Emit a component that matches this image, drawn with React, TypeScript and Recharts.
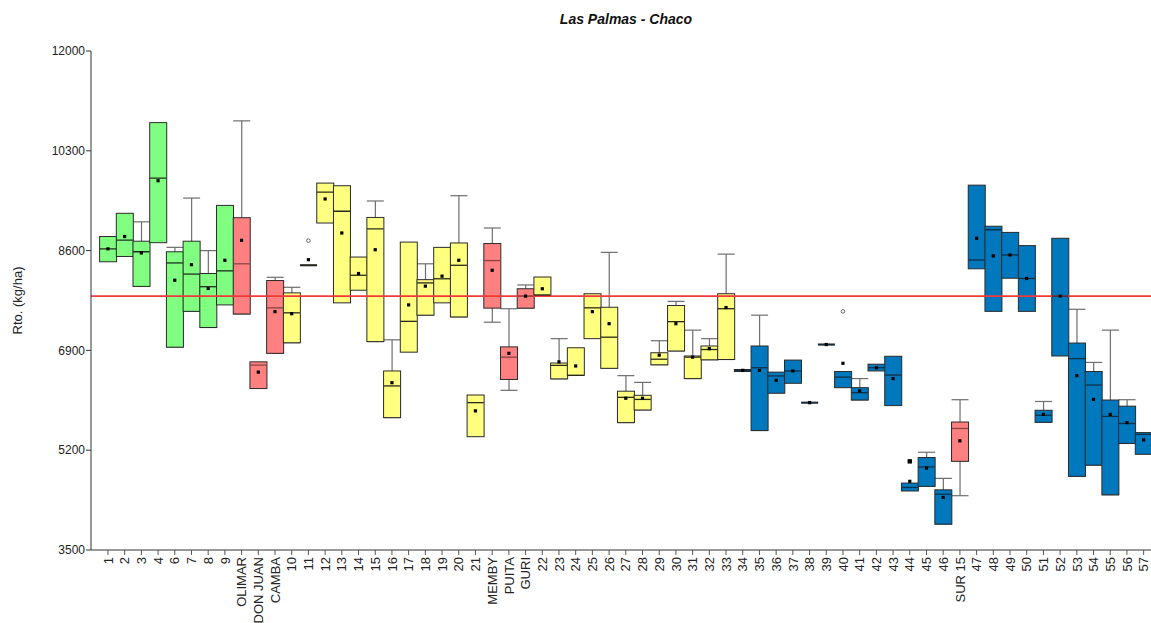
import React from 'react';
import { ComposedChart, Bar, Scatter, XAxis, YAxis, ReferenceLine } from 'recharts';

const categories = [
  '1', '2', '3', '4', '6', '7', '8', '9', 'OLIMAR', 'DON JUAN', 'CAMBA',
  '10', '11', '12', '13', '14', '15', '16', '17', '18', '19', '20', '21',
  'MEMBY', 'PUITA', 'GURI',
  '22', '23', '24', '25', '26', '27', '28', '29', '30', '31', '32', '33',
  '34', '35', '36', '37', '38', '39', '40', '41', '42', '43', '44', '45', '46',
  'SUR 15',
  '47', '48', '49', '50', '51', '52', '53', '54', '55', '56', '57',
];

const groups = [
  'G', 'G', 'G', 'G', 'G', 'G', 'G', 'G', 'R', 'R', 'R',
  'Y', 'Y', 'Y', 'Y', 'Y', 'Y', 'Y', 'Y', 'Y', 'Y', 'Y', 'Y',
  'R', 'R', 'R',
  'Y', 'Y', 'Y', 'Y', 'Y', 'Y', 'Y', 'Y', 'Y', 'Y', 'Y', 'Y',
  'B', 'B', 'B', 'B', 'B', 'B', 'B', 'B', 'B', 'B', 'B', 'B', 'B',
  'R',
  'B', 'B', 'B', 'B', 'B', 'B', 'B', 'B', 'B', 'B', 'B',
];

const q1 = [
  8410, 8500, 7990, 8735, 6955, 7565, 7290, 7675, 7520, 6250, 6850,
  7030, 8350, 9070, 7710, 7925, 7050, 5755, 6870, 7500, 7710, 7470, 5430,
  7620, 6405, 7620,
  7835, 6415, 6475, 7100, 6595, 5670, 5885, 6655, 6890, 6420, 6740, 6745,
  6540, 5535, 6170, 6340, 6010, 7000, 6265, 6055, 6550, 5960, 4505, 4585, 3940,
  5010,
  8290, 7565, 8130, 7565, 5675, 6805, 4755, 4945, 4440, 5315, 5130,
];

const q3 = [
  8840, 9235, 8760, 10780, 8580, 8760, 8210, 9370, 9160, 6705, 8090,
  7880, 8350, 9750, 9705, 8490, 9165, 6550, 8745, 8105, 8655, 8730, 6140,
  8720, 6960, 7950,
  8150, 6685, 6945, 7865, 7635, 6205, 6135, 6860, 7665, 6805, 6975, 7865,
  6575, 6975, 6530, 6735, 6010, 7000, 6540, 6265, 6665, 6800, 4640, 5075, 4525,
  5680,
  9715, 9015, 8910, 8685, 5880, 8810, 7025, 6540, 6055, 5950, 5500,
];

const medians = [
  8630, 8780, 8580, 9835, 8390, 8200, 7985, 8255, 8375, 6650, 7625,
  7540, 8350, 9595, 9270, 8180, 8970, 6295, 7395, 8050, 8120, 8350, 6010,
  8430, 6785, 7825,
  7845, 6645, 6475, 7625, 7125, 6100, 6065, 6750, 7390, 6785, 6915, 7610,
  6560, 6605, 6465, 6550, 6010, 7000, 6445, 6180, 6605, 6480, 4565, 4915, 4450,
  5570,
  8440, 8955, 8525, 8125, 5795, 7825, 6760, 6310, 5775, 5655, 5470,
];

const means = [
  8630, 8840, 8560, 9790, 8095, 8360, 7955, 8435, 8775, 6530, 7560,
  7525, 8445, 9480, 8900, 8210, 8615, 6350, 7675, 7995, 8165, 8435, 5870,
  8265, 6850, 7825,
  7950, 6705, 6635, 7560, 7355, 6085, 6085, 6820, 7355, 6785, 6930, 7630,
  6560, 6560, 6390, 6550, 6010, 7000, 6680, 6210, 6605, 6420, 4670, 4895, 4395,
  5360,
  8810, 8510, 8525, 8125, 5810, 7825, 6470, 6065, 5810, 5670, 5375,
];

const whiskerHigh: (number | null)[] = [
  null, null, 9090, null, 8655, 9495, 8600, null, 10810, null, 8145,
  7975, null, null, null, null, 9445, 7080, null, 8375, null, 9535, null,
  8985, 7610, 8015,
  null, 7100, null, null, 8570, 6470, 6355, 7065, 7735, 7245, 7100, 8540,
  null, 7500, null, null, null, null, null, 6420, null, null, null, 5165, 4720,
  6060,
  null, null, null, null, 6030, null, 7600, 6695, 7245, 6060, null,
];

const whiskerLow: (number | null)[] = [
  null, null, null, null, null, null, null, null, null, null, null,
  null, null, null, null, null, null, null, null, null, null, null, null,
  7380, 6220, null,
  null, null, null, null, null, null, null, null, null, null, null, null,
  null, null, null, null, null, null, null, null, null, null, null, null, null,
  4425,
  null, null, null, null, null, null, null, null, null, null, null,
];

const outlierCategories = ['11', '40', '44'];
const outlierValues = [8770, 7565, 5010];
const outlierKinds = ['circle', 'circle', 'square'];

const yTicks = [3500, 5200, 6900, 8600, 10300, 12000];
const referenceValue = 7825;

const groupFill: Record<string, string> = {
  G: '#80FF80',
  R: '#FF8080',
  Y: '#FFFF80',
  B: '#0078BE',
};
const groupMedian: Record<string, string> = {
  G: '#1e2e1e',
  R: '#8a4444',
  Y: '#2a2a1a',
  B: '#10304a',
};

const data = categories.map((name, i) => {
  const lo = whiskerLow[i];
  const hi = whiskerHigh[i];
  const oi = outlierCategories.indexOf(name);
  return {
    name,
    group: groups[i],
    box: [q1[i], q3[i]],
    whisk: lo == null && hi == null ? null : [lo ?? q1[i], hi ?? q3[i]],
    median: medians[i],
    mean: means[i],
    outlier: oi >= 0 ? outlierValues[oi] : null,
    outlierKind: oi >= 0 ? outlierKinds[oi] : null,
  };
});

const FONT = '"Liberation Sans", Arial, Helvetica, sans-serif';

const BoxShape = (props: any) => {
  const { x, y, width, height, payload } = props;
  if (x == null || y == null || !isFinite(y)) return <g />;
  const top = Math.min(y, y + height);
  const h = Math.abs(height);
  if (h < 1.5) {
    return <rect x={x} y={top - 1} width={width} height={2} fill="#222" />;
  }
  return (
    <rect
      x={x}
      y={top}
      width={width}
      height={h}
      fill={groupFill[payload.group]}
      stroke="#2a2a2a"
      strokeWidth={1}
    />
  );
};

const WhiskerShape = (props: any) => {
  const { x, y, width, height, payload } = props;
  if (!payload || !payload.whisk || y == null || !isFinite(y)) return <g />;
  const top = Math.min(y, y + height);
  const bot = Math.max(y, y + height);
  const cx = x + width / 2;
  return (
    <g stroke="#6e6e6e" strokeWidth={1.2}>
      <line x1={cx} x2={cx} y1={top} y2={bot} />
      <line x1={x} x2={x + width} y1={top} y2={top} />
      <line x1={x} x2={x + width} y1={bot} y2={bot} />
    </g>
  );
};

const MedianShape = (props: any) => {
  const { cx, cy, payload } = props;
  if (cx == null || cy == null || !isFinite(cy)) return <g />;
  return (
    <line
      x1={cx - 8.2}
      x2={cx + 8.2}
      y1={cy}
      y2={cy}
      stroke={groupMedian[payload.group]}
      strokeWidth={1.3}
    />
  );
};

const MeanShape = (props: any) => {
  const { cx, cy } = props;
  if (cx == null || cy == null || !isFinite(cy)) return <g />;
  return <rect x={cx - 1.6} y={cy - 1.6} width={3.2} height={3.2} fill="#000" />;
};

const OutlierShape = (props: any) => {
  const { cx, cy, payload } = props;
  if (!payload || payload.outlier == null || cx == null || !isFinite(cy)) return <g />;
  if (payload.outlierKind === 'square') {
    return <rect x={cx - 2.2} y={cy - 2.2} width={4.4} height={4.4} fill="#000" />;
  }
  return <circle cx={cx} cy={cy} r={1.8} fill="#fff" stroke="#666" strokeWidth={1} />;
};

const XTick = (props: any) => {
  const { x, y, payload } = props;
  return (
    <text
      x={x}
      y={y}
      dy="0.36em"
      transform={`rotate(-90, ${x}, ${y})`}
      textAnchor="end"
      fontSize={13}
      fill="#222"
      fontFamily={FONT}
    >
      {payload.value}
    </text>
  );
};

const YLabel = (props: any) => {
  const vb = props.viewBox || { y: 51, height: 499 };
  const cx = 17;
  const cy = vb.y + vb.height / 2;
  return (
    <text
      x={cx}
      y={cy}
      transform={`rotate(-90, ${cx}, ${cy})`}
      textAnchor="middle"
      dominantBaseline="central"
      fontSize={13}
      fill="#222"
      fontFamily={FONT}
    >
      Rto. (kg/ha)
    </text>
  );
};

export default function App() {
  return (
    <div
      style={{
        position: 'absolute',
        left: 0,
        top: 0,
        width: 1151,
        height: 623,
        overflow: 'hidden',
        background: '#fff',
        fontFamily: FONT,
      }}
    >
      <div
        style={{
          position: 'absolute',
          left: 91,
          width: 1070,
          top: 11,
          textAlign: 'center',
          fontSize: 14,
          fontWeight: 'bold',
          fontStyle: 'italic',
          color: '#111',
          fontFamily: FONT,
          lineHeight: '16px',
        }}
      >
        Las Palmas - Chaco
      </div>
      <ComposedChart
        width={1152}
        height={623}
        data={data}
        margin={{ top: 51, right: 0, bottom: 0, left: 0 }}
        barCategoryGap={0}
        barGap={0}
        style={{ position: 'absolute', left: 0, top: 0, fontFamily: FONT }}
      >
        <XAxis
          dataKey="name"
          type="category"
          interval={0}
          height={73}
          padding={{ left: 8.6, right: 0 }}
          allowDuplicatedCategory={false}
          tick={<XTick />}
          tickSize={5}
          tickLine={{ stroke: '#555' }}
          axisLine={{ stroke: '#333' }}
        />
        <XAxis
          xAxisId="w"
          dataKey="name"
          type="category"
          hide
          padding={{ left: 8.6, right: 0 }}
          allowDuplicatedCategory={false}
        />
        <YAxis
          type="number"
          domain={[3500, 12000]}
          ticks={yTicks}
          interval={0}
          width={91}
          allowDataOverflow
          tickSize={5}
          tickMargin={1}
          tick={{ fontSize: 12, fill: '#222', fontFamily: FONT }}
          tickLine={{ stroke: '#333' }}
          axisLine={{ stroke: '#333' }}
          label={{ content: <YLabel /> }}
        />
        <Bar
          xAxisId="w"
          dataKey="whisk"
          shape={<WhiskerShape />}
          isAnimationActive={false}
          legendType="none"
        />
        <Bar
          dataKey="box"
          shape={<BoxShape />}
          isAnimationActive={false}
          legendType="none"
        />
        <Scatter
          dataKey="median"
          shape={<MedianShape />}
          isAnimationActive={false}
          legendType="none"
        />
        <Scatter
          dataKey="mean"
          shape={<MeanShape />}
          isAnimationActive={false}
          legendType="none"
        />
        <Scatter
          dataKey="outlier"
          shape={<OutlierShape />}
          isAnimationActive={false}
          legendType="none"
        />
        <ReferenceLine y={referenceValue} stroke="#F03A3A" strokeWidth={1.6} />
      </ComposedChart>
    </div>
  );
}
